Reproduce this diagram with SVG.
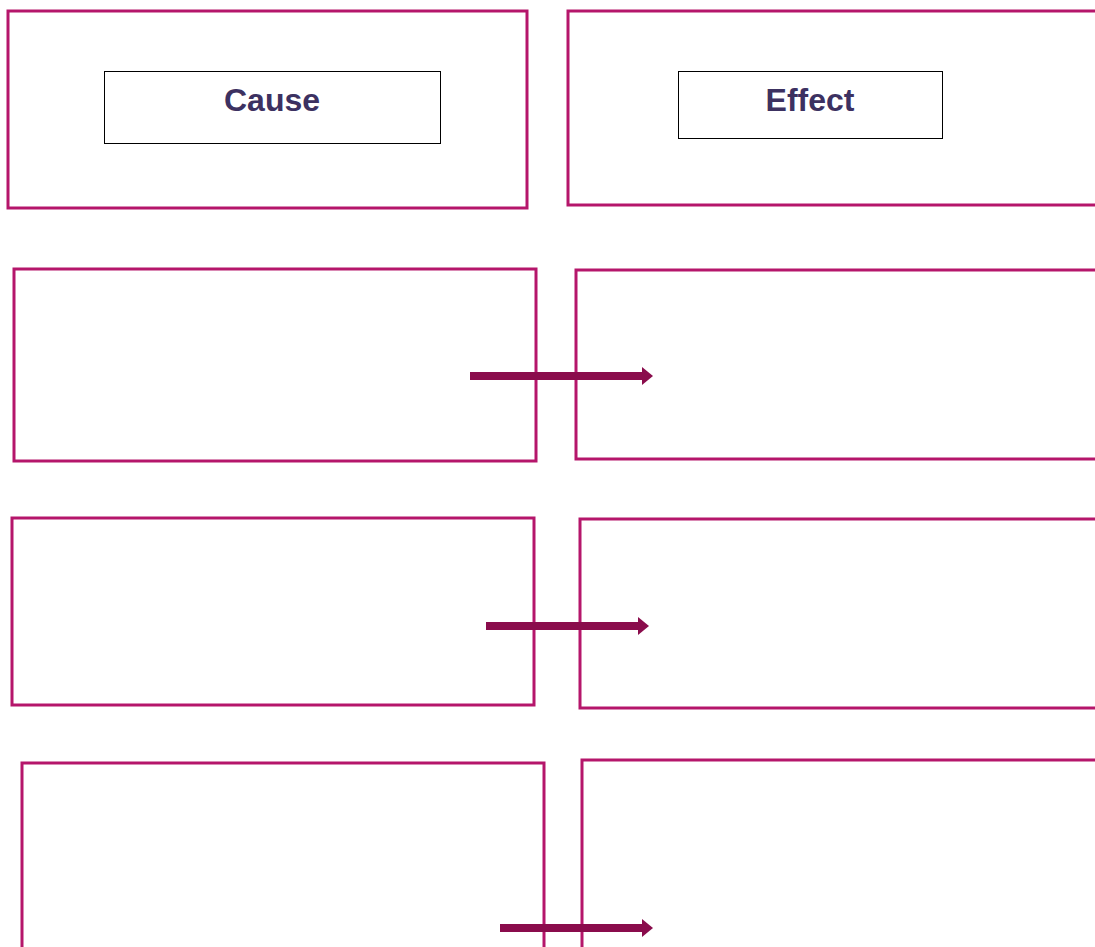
<svg xmlns="http://www.w3.org/2000/svg" width="1095" height="947" viewBox="0 0 1095 947">
<style>
.box{fill:none;stroke:#B5166B;stroke-width:3}
.lbl{fill:#fff;stroke:#000;stroke-width:1}
.txt{font-family:"Liberation Sans",Arial,sans-serif;font-weight:bold;font-size:32px;fill:#3C3161;text-anchor:middle}
.arr{fill:none;stroke:#8A0C4C;stroke-width:8}
</style>
<defs>
<marker id="ah" markerUnits="userSpaceOnUse" markerWidth="12" markerHeight="20" refX="1" refY="10" orient="auto">
<path d="M0,1 L11,10 L0,19 Z" fill="#8A0C4C"/>
</marker>
</defs>
<rect width="1095" height="947" fill="#fff"/>
<g id="cause-header">
<rect class="box" x="8" y="11" width="519" height="197"/>
<rect class="lbl" x="104.5" y="71.5" width="336" height="72"/>
<text class="txt" x="272" y="111">Cause</text>
</g>
<g id="effect-header">
<rect class="box" x="568" y="11" width="530" height="194"/>
<rect class="lbl" x="678.5" y="71.5" width="264" height="67"/>
<text class="txt" x="810" y="111">Effect</text>
</g>
<g id="cause-1"><rect class="box" x="14" y="269" width="522" height="192"/></g>
<g id="effect-1"><rect class="box" x="576" y="270" width="522" height="189"/></g>
<g id="cause-2"><rect class="box" x="12" y="518" width="522" height="187"/></g>
<g id="effect-2"><rect class="box" x="580" y="519" width="518" height="189"/></g>
<g id="cause-3"><rect class="box" x="22" y="763" width="522" height="200"/></g>
<g id="effect-3"><rect class="box" x="582" y="760" width="516" height="200"/></g>
<g id="connectors">
<line class="arr" x1="470" y1="376" x2="643" y2="376" marker-end="url(#ah)"/>
<line class="arr" x1="486" y1="626" x2="639" y2="626" marker-end="url(#ah)"/>
<line class="arr" x1="500" y1="928" x2="643" y2="928" marker-end="url(#ah)"/>
</g>
</svg>
